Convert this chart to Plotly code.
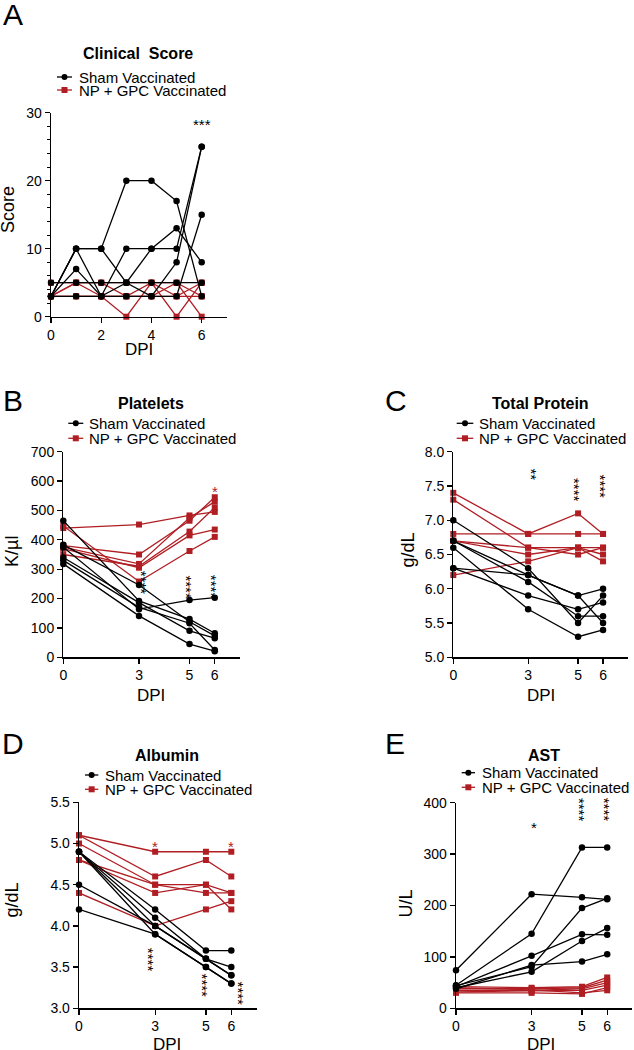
import plotly.graph_objects as go

W, H = 634, 1050
BLACK = "#000000"
RED = "#B01E23"
FONT = "Liberation Sans, Arial, sans-serif"

# ---------------- data ----------------
a_days = [0, 1, 2, 3, 4, 5, 6]
a_sham = [
    [3, 10, 10, 20, 20, 17, 3],
    [3, 10, 10, 5, 3, 8, 25],
    [3, 10, 3, 10, 10, 10, 25],
    [3, 7, 3, 5, 10, 13, 8],
    [5, 5, 5, 5, 5, 5, 5],
    [3, 3, 3, 3, 3, 3, 15],
]
a_vacc = [
    [3, 5, 3, 0, 5, 0, 5],
    [3, 3, 3, 3, 5, 3, 5],
    [5, 5, 5, 5, 5, 5, 0],
    [3, 5, 5, 3, 3, 5, 3],
    [3, 3, 3, 3, 3, 3, 3],
]

days = [0, 3, 5, 6]
b_sham = [[465, 192, 130, 82], [383, 246, 121, 73], [375, 164, 195, 203],
          [340, 186, 90, 65], [330, 170, 116, 25], [318, 141, 45, 21]]
b_vacc = [[440, 452, 483, 495], [380, 350, 465, 545], [375, 318, 475, 530],
          [350, 310, 428, 510], [370, 305, 415, 435], [447, 258, 362, 410]]

c_sham = [[7.0, 6.3, 5.5, 5.9], [6.7, 6.2, 5.9, 6.0], [6.7, 6.1, 5.6, 5.6],
          [6.6, 5.7, 5.3, 5.4], [6.3, 5.9, 5.7, 5.8], [6.3, 6.2, 5.9, 5.5]]
c_vacc = [[7.4, 6.8, 7.1, 6.8], [7.3, 6.6, 6.6, 6.5], [6.8, 6.8, 6.8, 6.8],
          [6.7, 6.5, 6.6, 6.6], [6.2, 6.4, 6.6, 6.4], [6.7, 6.6, 6.5, 6.6]]

d_sham = [[4.9, 4.2, 3.7, 3.7], [4.9, 4.1, 3.6, 3.5], [4.9, 4.0, 3.6, 3.4],
          [4.9, 3.9, 3.5, 3.3], [4.5, 4.0, 3.6, 3.4], [4.2, 3.9, 3.5, 3.3]]
d_vacc = [[5.1, 4.9, 4.9, 4.9], [5.1, 4.6, 4.8, 4.6], [5.0, 4.5, 4.5, 4.4],
          [4.8, 4.4, 4.5, 4.2], [4.8, 4.5, 4.4, 4.4], [4.4, 4.0, 4.2, 4.3]]

e_sham = [[74, 222, 216, 212], [45, 145, 313, 313], [42, 102, 144, 143],
          [40, 71, 131, 156], [44, 81, 195, 214], [38, 84, 91, 105]]
e_vacc = [[42, 40, 42, 60], [38, 38, 40, 55], [35, 35, 38, 50],
          [32, 33, 35, 45], [30, 30, 28, 40], [40, 36, 30, 35]]

sham_label = "Sham Vaccinated"
vacc_label = "NP + GPC Vaccinated"

panels = [
    dict(letter="A", title="Clinical  Score", ytitle="Score", x=a_days, sham=a_sham, vacc=a_vacc,
         yrange=[0, 30], ytick=[0, 10, 20, 30], fmt="d", xtick=[0, 2, 4, 6],
         xpx=(51, 226.8), ypx=(112.7, 316.7), lpos=(12.5, 15), tpos=(138.3, 53.3),
         ytpos=(8, 210), xtpos=(139, 350), leg=(57, 72, 77, 77, 90)),
    dict(letter="B", title="Platelets", ytitle="K/\u00b5l", x=days, sham=b_sham, vacc=b_vacc,
         yrange=[0, 700], ytick=[0, 100, 200, 300, 400, 500, 600, 700], fmt="d", xtick=days,
         xpx=(63.3, 240), ypx=(451.7, 657.3), lpos=(12.5, 400), tpos=(151, 403.3),
         ytpos=(12, 552), xtpos=(150.7, 695), leg=(68.3, 83.3, 87.3, 423.3, 438.3)),
    dict(letter="C", title="Total Protein", ytitle="g/dL", x=days, sham=c_sham, vacc=c_vacc,
         yrange=[5.0, 8.0], ytick=[5.0, 5.5, 6.0, 6.5, 7.0, 7.5, 8.0], fmt=".1f", xtick=days,
         xpx=(453.3, 628), ypx=(451.7, 657.3), lpos=(395.5, 400), tpos=(540.7, 403.3),
         ytpos=(407.5, 550), xtpos=(540.7, 695), leg=(456.7, 473.3, 477.3, 423.3, 438.3)),
    dict(letter="D", title="Albumin", ytitle="g/dL", x=days, sham=d_sham, vacc=d_vacc,
         yrange=[3.0, 5.5], ytick=[3.0, 3.5, 4.0, 4.5, 5.0, 5.5], fmt=".1f", xtick=days,
         xpx=(79, 256.7), ypx=(802.3, 1008.3), lpos=(12.5, 743), tpos=(166.7, 755),
         ytpos=(11.5, 900), xtpos=(166.7, 1044), leg=(85, 98.3, 103.3, 775, 789.3)),
    dict(letter="E", title="AST", ytitle="U/L", x=days, sham=e_sham, vacc=e_vacc,
         yrange=[0, 400], ytick=[0, 100, 200, 300, 400], fmt="d", xtick=days,
         xpx=(456, 632.4), ypx=(802.7, 1008.3), lpos=(395, 743), tpos=(544, 755),
         ytpos=(405.5, 904), xtpos=(540.7, 1044), leg=(461.7, 475, 480, 772.7, 787.3)),
]

# significance marks: (panel index, x, y, text, color, angle)
stars = [
    (0, 6.0, 28.3, "***", BLACK, 0),
    (1, 3.1, 255, "****", BLACK, 90),
    (1, 4.9, 238, "****", BLACK, 90),
    (1, 5.9, 239, "****", BLACK, 90),
    (1, 6.0, 566, "*", RED, 0),
    (2, 3.15, 7.67, "**", BLACK, 90),
    (2, 4.88, 7.44, "****", BLACK, 90),
    (2, 5.88, 7.49, "****", BLACK, 90),
    (3, 3.0, 4.96, "*", RED, 0),
    (3, 6.0, 4.96, "*", RED, 0),
    (3, 2.75, 3.59, "****", BLACK, 90),
    (3, 4.87, 3.28, "****", BLACK, 90),
    (3, 6.3, 3.18, "****", BLACK, 90),
    (4, 3.1, 351, "*", BLACK, 0),
    (4, 4.88, 386, "****", BLACK, 90),
    (4, 5.88, 386, "****", BLACK, 90),
]

fig = go.Figure()
annotations = []
shapes = []


def px2x(px):
    return px / W


def px2y(py):
    return 1 - py / H


def txt(text, px, py, size, angle=0, xanchor="center", color=BLACK):
    return dict(text=text, x=px2x(px), y=px2y(py), xref="paper", yref="paper",
                xanchor=xanchor, yanchor="middle", showarrow=False, textangle=angle,
                font=dict(family=FONT, size=size, color=color))


for i, p in enumerate(panels):
    n = "" if i == 0 else str(i + 1)
    xa, ya = "x" + n, "y" + n
    for series, color, symbol in ((p["vacc"], RED, "square"), (p["sham"], BLACK, "circle")):
        for vals in series:
            fig.add_trace(go.Scatter(
                x=p["x"], y=vals, mode="lines+markers", xaxis=xa, yaxis=ya,
                line=dict(color=color, width=1.3),
                marker=dict(color=color, symbol=symbol, size=6.5 if symbol == "circle" else 6),
                cliponaxis=False, showlegend=False, hoverinfo="skip"))
    axis_common = dict(showline=True, linecolor=BLACK, linewidth=1.3, ticks="outside",
                       ticklen=5, tickwidth=1.3, tickcolor=BLACK, showgrid=False,
                       zeroline=False, automargin=False,
                       tickfont=dict(family=FONT, size=14, color=BLACK))
    xd = [px2x(p["xpx"][0]), px2x(p["xpx"][1])]
    yd = [px2y(p["ypx"][1]), px2y(p["ypx"][0])]
    yax = dict(axis_common, domain=yd, range=p["yrange"], tickvals=p["ytick"],
               tickformat=p["fmt"], anchor=xa)
    if i == 0:
        yax["minor"] = dict(dtick=2, ticklen=3, tickwidth=1, tickcolor=BLACK, ticks="outside")
    fig.update_layout(**{
        "xaxis" + n: dict(axis_common, domain=xd, range=[0, 7], tickvals=p["xtick"], anchor=ya),
        "yaxis" + n: yax,
    })
    annotations.append(txt(p["letter"], p["lpos"][0], p["lpos"][1], 30))
    annotations.append(txt("<b>" + p["title"] + "</b>", p["tpos"][0], p["tpos"][1], 16))
    annotations.append(txt(p["ytitle"], p["ytpos"][0], p["ytpos"][1], 18, angle=-90))
    annotations.append(txt("DPI", p["xtpos"][0], p["xtpos"][1], 17))
    # legend
    lx0, lx1, tx, r1, r2 = p["leg"]
    for row_y, color, symbol, label in ((r1, BLACK, "circle", sham_label),
                                        (r2, RED, "square", vacc_label)):
        shapes.append(dict(type="line", xref="paper", yref="paper",
                           x0=px2x(lx0), x1=px2x(lx1), y0=px2y(row_y), y1=px2y(row_y),
                           line=dict(color=color, width=1.3)))
        cx = (lx0 + lx1) / 2
        r = 3
        shapes.append(dict(type="circle" if symbol == "circle" else "rect",
                           xref="paper", yref="paper",
                           x0=px2x(cx - r), x1=px2x(cx + r),
                           y0=px2y(row_y + r), y1=px2y(row_y - r),
                           fillcolor=color, line=dict(color=color, width=0)))
        annotations.append(txt(label, tx, row_y, 15, xanchor="left"))

for (pi, x, y, t, color, ang) in stars:
    n = "" if pi == 0 else str(pi + 1)
    annotations.append(dict(text=t, x=x, y=y, xref="x" + n, yref="y" + n,
                            xanchor="center", yanchor="middle",
                            showarrow=False, textangle=ang,
                            font=dict(family=FONT, size=15, color=color)))

fig.update_layout(width=W, height=H, margin=dict(l=0, r=0, t=0, b=0, pad=0),
                  template="none", autosize=False,
                  paper_bgcolor="white", plot_bgcolor="white",
                  annotations=annotations, shapes=shapes, showlegend=False)

fig.write_html("out.html",
               config={"displayModeBar": False, "staticPlot": True},
               post_script="document.body.style.margin='0px';document.body.style.padding='0px';")
